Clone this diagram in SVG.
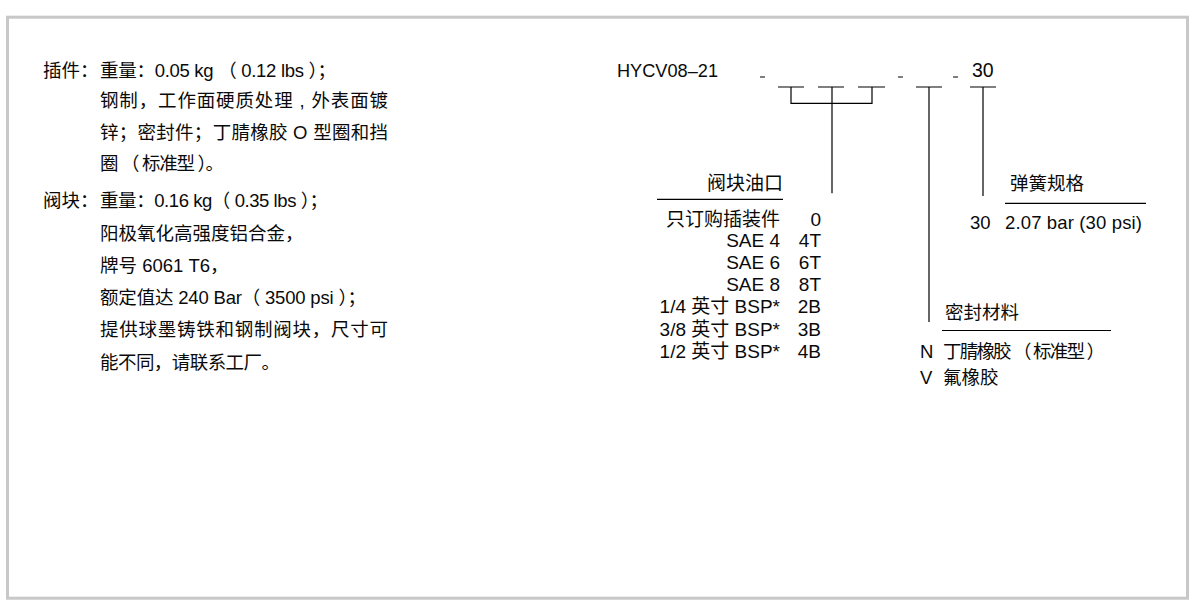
<svg xmlns="http://www.w3.org/2000/svg" width="1197" height="609" viewBox="0 0 1197 609">
<style>
text{font-family:"Liberation Sans","Noto Sans CJK SC",sans-serif;font-size:18.5px;fill:#0a0a0a}
.r{text-anchor:end}
.t{font-size:19px}
.ln{stroke:#000;stroke-width:1.2;fill:none}
</style>
<rect x="0" y="0" width="1197" height="609" fill="#fff"/>
<rect x="7.5" y="17.2" width="1180" height="581" fill="none" stroke="#c8c8c8" stroke-width="3"/>
<g id="notes">
<text x="43" y="77">插件：</text>
<text x="100" y="77" textLength="236" lengthAdjust="spacing">重量：0.05 kg （ 0.12 lbs ）；</text>
<text x="100" y="107" textLength="288" lengthAdjust="spacing">钢制，工作面硬质处理 , 外表面镀</text>
<text x="100" y="139" textLength="288" lengthAdjust="spacing">锌；密封件；丁腈橡胶 O 型圈和挡</text>
<text x="100" y="170" textLength="124" lengthAdjust="spacing">圈 （ 标准型 ）。</text>
<text x="43" y="207">阀块：</text>
<text x="100" y="207" textLength="228" lengthAdjust="spacing">重量：0.16 kg（ 0.35 lbs ）；</text>
<text x="100" y="240">阳极氧化高强度铝合金，</text>
<text x="100" y="272">牌号 6061 T6，</text>
<text x="100" y="304" textLength="266" lengthAdjust="spacing">额定值达 240 Bar（ 3500 psi ）；</text>
<text x="100" y="336" textLength="288" lengthAdjust="spacing">提供球墨铸铁和钢制阀块，尺寸可</text>
<text x="100" y="369" textLength="180" lengthAdjust="spacing">能不同，请联系工厂。</text>
</g>
<g id="model-code">
<text x="617" y="77" textLength="101" lengthAdjust="spacingAndGlyphs">HYCV08–21</text>
<text x="972" y="77" style="font-size:19.5px">30</text>
</g>
<g id="port-table" class="t">
<text class="r t" x="783" y="190">阀块油口</text>
<text class="r t" x="780" y="226">只订购插装件</text><text class="r t" x="821" y="226">0</text>
<text class="r t" x="780" y="247">SAE 4</text><text class="r t" x="821" y="247">4T</text>
<text class="r t" x="780" y="269">SAE 6</text><text class="r t" x="821" y="269">6T</text>
<text class="r t" x="780" y="291">SAE 8</text><text class="r t" x="821" y="291">8T</text>
<text class="r t" x="780" y="313">1/4 英寸 BSP*</text><text class="r t" x="821" y="313">2B</text>
<text class="r t" x="780" y="336">3/8 英寸 BSP*</text><text class="r t" x="821" y="336">3B</text>
<text class="r t" x="780" y="358">1/2 英寸 BSP*</text><text class="r t" x="821" y="358">4B</text>
</g>
<g id="spring">
<text x="1010" y="190">弹簧规格</text>
<text x="970" y="229">30</text>
<text x="1005" y="229" textLength="137" lengthAdjust="spacing">2.07 bar (30 psi)</text>
</g>
<g id="seal">
<text x="945" y="319">密封材料</text>
<text x="920" y="358">N</text><text x="943" y="358" textLength="162" lengthAdjust="spacing">丁腈橡胶 （ 标准型 ）</text>
<text x="920" y="384">V</text><text x="943" y="384">氟橡胶</text>
</g>
<g id="connectors" class="ln">
<path d="M760 77H765M898 77H903M953 77H958"/>
<path d="M778 87H804M818 87H844M858 87H885M916 87H942M970 87H996"/>
<path d="M791 87V103.3H872V87M832 87V193.3M929 87V322M983 87V196"/>
<path d="M657 199.3H783M1005 203.3H1146M942 330.5H1111"/>
</g>
</svg>
